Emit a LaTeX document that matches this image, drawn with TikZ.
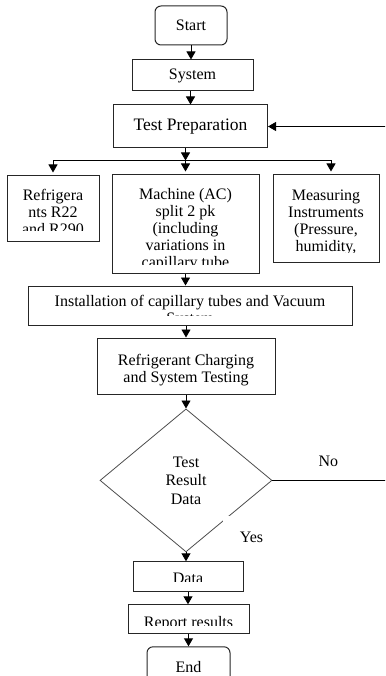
\documentclass[tikz,border=0pt]{standalone}
\usepackage{fontspec}
\setmainfont{Liberation Serif}
\usepackage{tikz}
\usetikzlibrary{arrows.meta,positioning,shapes.geometric}

\newcommand{\boxfont}{\fontsize{16}{17}\selectfont}

\begin{document}
\begin{tikzpicture}[x=1pt, y=1pt,
  proc/.style={draw=black!85, line width=1pt, rectangle, inner sep=0pt,
    align=center, font=\boxfont},
  term/.style={proc, rounded corners=6pt},
  decide/.style={diamond, draw=black!70, line width=0.8pt, inner sep=0pt,
    align=center, font=\fontsize{16}{18.5}\selectfont},
  cliptext/.style n args={3}{path picture={
    \clip ([yshift=#2]path picture bounding box.south west) rectangle
      (path picture bounding box.north east);
    \node[anchor=north, inner sep=0pt, minimum width=0pt, minimum height=0pt,
      align=center, font=\boxfont]
      at ([yshift=-#1]path picture bounding box.north) {#3};}},
  flow/.style={-{Triangle[length=8pt,width=9pt]}, line width=0.9pt},
  lbl/.style={fill=white, inner sep=0pt, font=\boxfont},
]
  \useasboundingbox (0,0) rectangle (385,-676);
  \clip (0,0) rectangle (385,-676);

  \node[term, minimum width=72pt, minimum height=39pt] (start) at (191,-25.5) {Start};
  \node[proc, minimum width=121pt, minimum height=31pt, below=14pt of start,
    xshift=1.5pt] (sys) {System};
  \node[proc, minimum width=154pt, minimum height=43pt, below=13pt of sys,
    xshift=-2pt, font=\fontsize{17.5}{19}\selectfont] (prep) {Test Preparation};
  \coordinate[below=12pt of prep.south, xshift=-5pt] (split);

  \node[proc, minimum width=147pt, minimum height=98pt, below=26pt of prep, xshift=-5pt,
    cliptext={12.5pt}{9pt}{Machine (AC)\\split 2 pk\\(including\\variations in\\capillary tube\\length)}] (mach) {};
  \node[proc, minimum width=92pt, minimum height=65pt, left=12pt of mach.north west,
    anchor=north east, yshift=-1pt,
    cliptext={12.5pt}{11pt}{Refrigera\\nts R22\\and R290}] (refr) {};
  \node[proc, minimum width=106pt, minimum height=87pt, right=13pt of mach.north east,
    anchor=north west,
    cliptext={14pt}{10pt}{Measuring\\Instruments\\(Pressure,\\humidity,\\temperature)}] (meas) {};

  \node[proc, minimum width=324pt, minimum height=39pt, below=12pt of mach, xshift=4.5pt,
    cliptext={8.5pt}{10pt}{Installation of capillary tubes and Vacuum\\System}] (inst) {};
  \node[proc, minimum width=178pt, minimum height=56pt, below=12pt of inst, xshift=-4pt,
    cliptext={16pt}{0pt}{Refrigerant Charging\\and System Testing}] (chg) {};
  \node[decide, minimum width=172pt, minimum height=143pt, below=14pt of chg] (dec)
    {Test\\Result\\Data};
  \node[proc, minimum width=110pt, minimum height=30pt, below=9pt of dec, xshift=2pt,
    cliptext={11pt}{10pt}{Data}] (data) {};
  \node[proc, minimum width=121pt, minimum height=29pt, below=12pt of data, xshift=0.5pt,
    cliptext={11pt}{8pt}{Report results}] (rep) {};
  \node[term, minimum width=83pt, minimum height=40pt, below=12pt of rep] (end) {End};

  % decision labels
  \node[lbl, minimum width=60pt, minimum height=36pt] (no)
    at ([xshift=56pt, yshift=19pt]dec.east) {No};
  \node[lbl, minimum width=57pt, minimum height=42pt] (yes)
    at ([xshift=65.5pt, yshift=15pt]dec.south) {Yes};

  % main flow
  \draw[flow] (start.south) -- (start.south |- sys.north);
  \draw[flow] (prep.north |- sys.south) -- (prep.north);
  \draw[flow] (prep.south -| split) -- (split);
  \draw[flow, shorten >=3pt] (split) -| (refr.north);
  \draw[flow, shorten >=3pt] (split) -| ([xshift=5pt]meas.north);
  \draw[flow, shorten >=3pt] (split) -- (mach.north);
  \draw[flow] (mach.south) -- (mach.south |- inst.north);
  \draw[flow] (chg.north |- inst.south) -- (chg.north);
  \draw[flow] (chg.south) -- (dec.north);
  \draw[flow] (dec.south) -- (dec.south |- data.north);
  \draw[flow] (data.south) -- (data.south |- rep.north);
  \draw[flow] (rep.south) -- (end.north);

  % loop back on No
  \draw[flow] (dec.east) -- ++(130pt,0) |- (prep.east);
\end{tikzpicture}
\end{document}
